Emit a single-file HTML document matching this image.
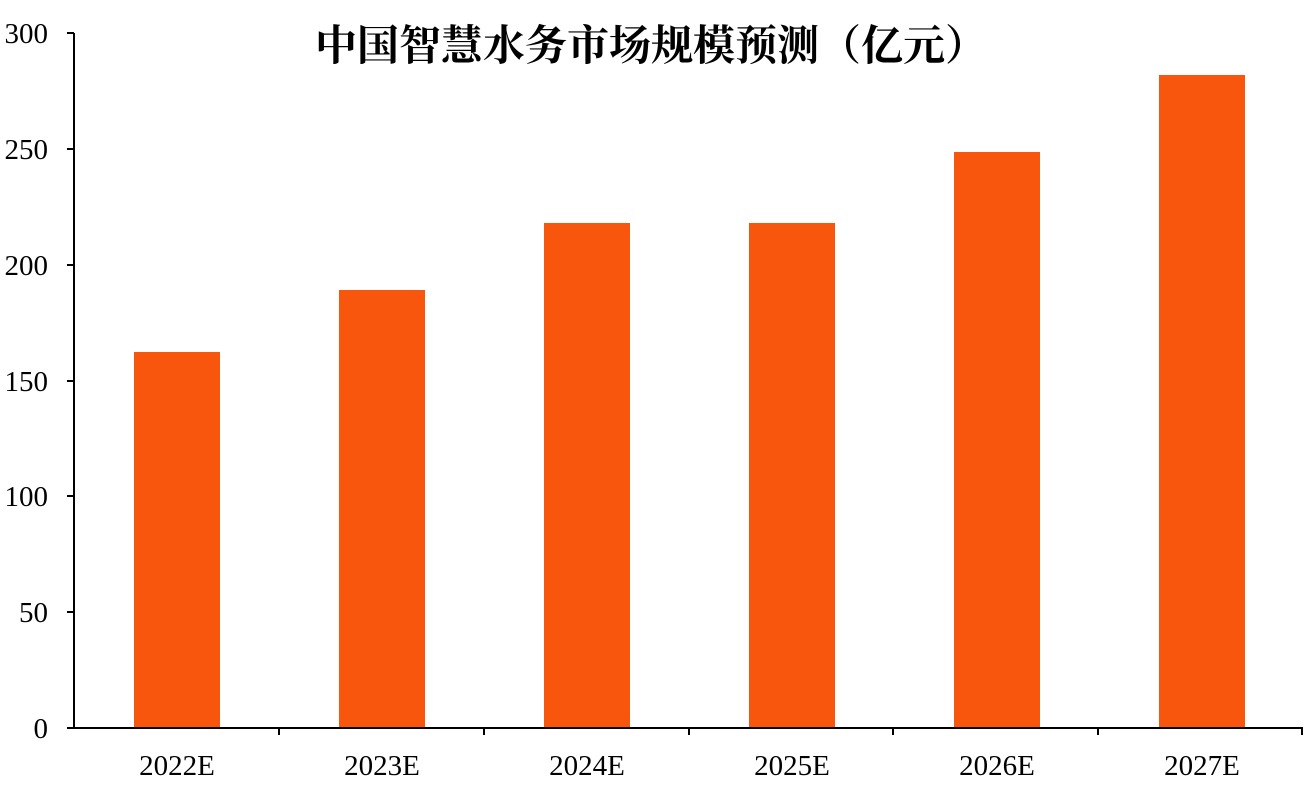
<!DOCTYPE html>
<html><head><meta charset="utf-8"><style>
body{margin:0;background:#fff;}
</style></head><body>
<svg width="1309" height="783" xmlns="http://www.w3.org/2000/svg" font-family="'Liberation Serif','Noto Serif CJK SC',serif">
<rect width="1309" height="783" fill="#fff"/>
<text x="651" y="60" text-anchor="middle" font-size="42" font-weight="bold" font-family="'Liberation Serif','Noto Serif CJK SC',serif">中国智慧水务市场规模预测（亿元）</text>
<g fill="#F7560C">
<rect x="134" y="352" width="86" height="376"/>
<rect x="339" y="290" width="86" height="438"/>
<rect x="544" y="223" width="86" height="505"/>
<rect x="749" y="223" width="86" height="505"/>
<rect x="954" y="152" width="86" height="576"/>
<rect x="1159" y="75" width="86" height="653"/>
</g>
<g stroke="#000" stroke-width="2" fill="none">
<line x1="74" y1="33" x2="74" y2="729"/>
<line x1="67" y1="728" x2="1303" y2="728"/>
<line x1="67" y1="33" x2="74" y2="33"/>
<line x1="67" y1="149" x2="74" y2="149"/>
<line x1="67" y1="265" x2="74" y2="265"/>
<line x1="67" y1="381" x2="74" y2="381"/>
<line x1="67" y1="496" x2="74" y2="496"/>
<line x1="67" y1="612" x2="74" y2="612"/>
<line x1="279" y1="728" x2="279" y2="735"/>
<line x1="484" y1="728" x2="484" y2="735"/>
<line x1="689" y1="728" x2="689" y2="735"/>
<line x1="893" y1="728" x2="893" y2="735"/>
<line x1="1098" y1="728" x2="1098" y2="735"/>
<line x1="1302" y1="728" x2="1302" y2="735"/>
</g>
<g font-size="29" text-anchor="end">
<text x="48" y="43">300</text>
<text x="48" y="159">250</text>
<text x="48" y="275">200</text>
<text x="48" y="391">150</text>
<text x="48" y="506">100</text>
<text x="48" y="622">50</text>
<text x="48" y="738">0</text>
</g>
<g font-size="29" text-anchor="middle">
<text x="177" y="775">2022E</text>
<text x="382" y="775">2023E</text>
<text x="587" y="775">2024E</text>
<text x="792" y="775">2025E</text>
<text x="997" y="775">2026E</text>
<text x="1202" y="775">2027E</text>
</g>
</svg>
</body></html>
